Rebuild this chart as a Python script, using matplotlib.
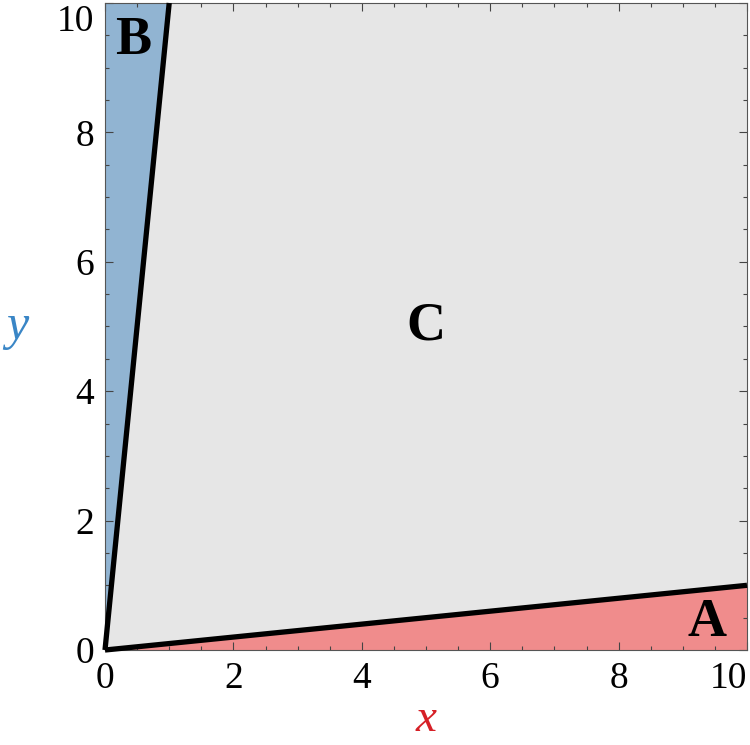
import matplotlib
matplotlib.use("Agg")
import matplotlib.pyplot as plt
import numpy as np
from matplotlib.ticker import MultipleLocator

plt.rcParams['font.family'] = ['Liberation Serif', 'DejaVu Serif']

# boundary lines through the origin: y = x/10 and y = 10x
slope_a = 0.1
slope_b = 10.0
lim = 10.0

ticks = [0, 2, 4, 6, 8, 10]
tick_labels = ['0', '2', '4', '6', '8', '10']

region_labels = ['A', 'B', 'C']
label_x = [9.38, 0.44, 5.0]
label_y = [0.42, 9.42, 5.0]

grey = '#e6e6e6'
blue = '#91b4d2'
red = '#f08c8c'

fig = plt.figure(figsize=(7.5, 7.45), dpi=100)
ax = fig.add_axes([0.14, 0.1275, 0.856, 0.8685])

x = np.array([0.0, lim])
ax.fill_between(x, 0, lim, color=grey, lw=0, zorder=0)
ax.fill_between(x, 0, slope_a * x, color=red, lw=0, zorder=1)
ax.fill_betweenx(x, 0, x / slope_b, color=blue, lw=0, zorder=1)
ax.plot(x, slope_a * x, color='k', lw=3.8, solid_capstyle='butt', zorder=3, clip_on=False)
ax.plot(x / slope_b, x, color='k', lw=3.8, solid_capstyle='butt', zorder=3, clip_on=False)

for t, lx, ly in zip(region_labels, label_x, label_y):
    ax.text(lx, ly, t, fontsize=39, fontweight='bold', ha='center', va='center', zorder=4)

ax.set_xlim(0, lim)
ax.set_ylim(0, lim)
# last label is drawn separately so it stays inside the figure
ax.set_xticks(ticks, tick_labels[:-1] + [''])
ax.set_yticks(ticks, tick_labels[:-1] + [''])
ax.xaxis.set_minor_locator(MultipleLocator(0.5))
ax.yaxis.set_minor_locator(MultipleLocator(0.5))
ax.tick_params(which='both', direction='in', top=True, right=True, color='#444444', width=0.8)
ax.tick_params(which='major', length=6, labelsize=27, pad=8)
ax.tick_params(which='minor', length=3)
for s in ax.spines.values():
    s.set_color('#555555')
    s.set_linewidth(0.8)

ax.annotate(tick_labels[-1], xy=(ticks[-1], 0), xycoords='data', xytext=(0, -8),
            textcoords='offset points', ha='right', va='top', fontsize=27)
ax.annotate(tick_labels[-1], xy=(0, ticks[-1]), xycoords='data', xytext=(-8, -1),
            textcoords='offset points', ha='right', va='top', fontsize=27)

ax.set_xlabel('x', fontsize=34, style='italic', color='#d62027', labelpad=2)
ax.set_ylabel('y', fontsize=36, style='italic', color='#3a86c6', rotation=0,
              labelpad=42, va='center')

fig.savefig('out.png', dpi=100)
